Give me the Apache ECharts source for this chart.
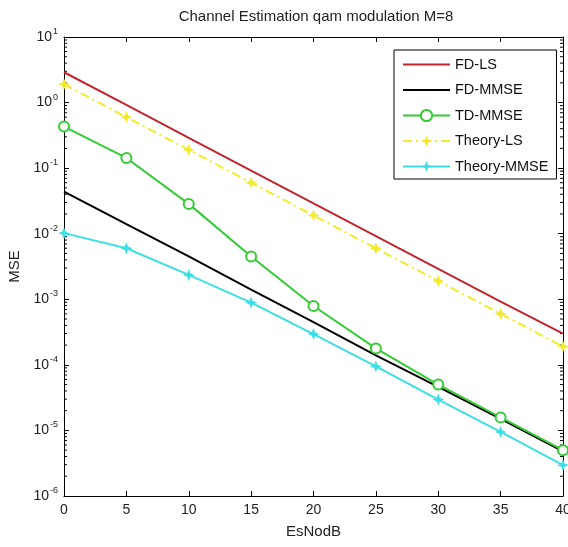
<!DOCTYPE html>
<html>
<head>
<meta charset="utf-8">
<script src="https://cdn.jsdelivr.net/npm/echarts@6/dist/echarts.min.js"></script>
<style>html,body{margin:0;padding:0;background:#fff}#c{width:568px;height:547px}</style>
</head>
<body>
<div id="c"></div>
<script>
const esno = [0, 5, 10, 15, 20, 25, 30, 35, 40];
const fdLS = [2.9, 0.92, 0.29, 0.092, 0.029, 0.0092, 0.0029, 0.00092, 0.0003];
const fdMMSE = [0.044, 0.014, 0.0045, 0.0014, 0.00045, 0.00014, 0.000046, 0.000015, 0.0000048];
const tdMMSE = [0.43, 0.143, 0.0285, 0.0045, 0.00079, 0.000178, 0.00005, 0.0000158, 0.000005];
const theoryLS = [1.9, 0.6, 0.19, 0.06, 0.019, 0.006, 0.0019, 0.0006, 0.00019];
const theoryMMSE = [0.0102, 0.006, 0.00235, 0.00089, 0.000295, 0.000095, 0.0000295, 0.0000095, 0.00000295];
const seriesNames = ['FD-LS', 'FD-MMSE', 'TD-MMSE', 'Theory-LS', 'Theory-MMSE'];
const titleText = 'Channel Estimation qam modulation M=8';
const xName = 'EsNodB';
const yName = 'MSE';

const FONT = 'Liberation Sans, Arial, sans-serif';
const pair = arr => esno.map((x, i) => [x, arr[i]]);
const minorVals = [];
for (let e = -6; e <= 0; e++) for (let m = 2; m <= 9; m++) minorVals.push([0, m * Math.pow(10, e)]);
const star = 'path://M0,-10 L2.8,-2.8 L10,0 L2.8,2.8 L0,10 L-2.8,2.8 L-10,0 L-2.8,-2.8 Z';

const chart = echarts.init(document.getElementById('c'), null, {renderer: 'canvas'});
const yLabel = {
  show: true, margin: 6, fontFamily: FONT, color: '#222',
  formatter: v => '{b|10}{s|' + Math.round(Math.log10(v)) + '}',
  rich: {
    b: {fontSize: 14, fontFamily: FONT, color: '#222'},
    s: {fontSize: 9, fontFamily: FONT, color: '#222', padding: [0, 0, 11, 1]}
  }
};
chart.setOption({
  animation: false,
  backgroundColor: '#fff',
  title: {text: titleText, left: 311, top: 4, textAlign: 'center',
    textStyle: {fontSize: 15, fontWeight: 'normal', fontFamily: FONT, color: '#222'}},
  grid: {left: 64, right: 5, top: 37, bottom: 51, containLabel: false, outerBoundsMode: 'none'},
  legend: {
    orient: 'vertical', left: 394, top: 50, padding: [7, 8, 5, 8],
    itemWidth: 47, itemHeight: 14, itemGap: 10.5,
    borderColor: '#000', borderWidth: 1, backgroundColor: '#fff',
    data: [
      {name: seriesNames[0], itemStyle: {opacity: 0}},
      {name: seriesNames[1], itemStyle: {opacity: 0}},
      seriesNames[2], seriesNames[3], seriesNames[4]
    ],
    textStyle: {fontSize: 14.5, fontFamily: FONT, color: '#111'}
  },
  xAxis: [
    {type: 'value', min: 0, max: 40, interval: 5, position: 'bottom',
      name: xName, nameLocation: 'middle', nameGap: 28,
      nameTextStyle: {fontSize: 15, fontFamily: FONT, color: '#222'},
      axisLine: {show: true, onZero: false, lineStyle: {color: '#000', width: 1}},
      axisTick: {show: true, inside: true, length: 5, lineStyle: {color: '#000'}},
      axisLabel: {fontSize: 14, fontFamily: FONT, color: '#222', margin: 7},
      splitLine: {show: false}},
    {type: 'value', min: 0, max: 40, interval: 5, position: 'top',
      axisLine: {show: true, onZero: false, lineStyle: {color: '#000', width: 1}},
      axisTick: {show: true, inside: true, length: 5, lineStyle: {color: '#000'}},
      axisLabel: {show: false}, splitLine: {show: false}}
  ],
  yAxis: [
    {type: 'log', logBase: 10, min: 1e-6, max: 10, position: 'left',
      name: yName, nameLocation: 'middle', nameGap: 38, nameRotate: 90,
      nameTextStyle: {fontSize: 15, fontFamily: FONT, color: '#222'},
      axisLine: {show: true, onZero: false, lineStyle: {color: '#000', width: 1}},
      axisTick: {show: true, inside: true, length: 5, lineStyle: {color: '#000'}},
      axisLabel: yLabel, splitLine: {show: false}},
    {type: 'log', logBase: 10, min: 1e-6, max: 10, position: 'right',
      axisLine: {show: true, onZero: false, lineStyle: {color: '#000', width: 1}},
      axisTick: {show: true, inside: true, length: 5, lineStyle: {color: '#000'}},
      axisLabel: {show: false}, splitLine: {show: false}}
  ],
  series: [
    {type: 'custom', name: 'minor', silent: true, clip: false, z: 1,
      data: minorVals,
      renderItem: (params, api) => {
        const v = api.value(1);
        const a = api.coord([0, v]);
        const b = api.coord([40, v]);
        return {type: 'group', children: [
          {type: 'line', shape: {x1: a[0], y1: a[1], x2: a[0] + 3, y2: a[1]}, style: {stroke: '#000', lineWidth: 1}},
          {type: 'line', shape: {x1: b[0], y1: b[1], x2: b[0] - 3, y2: b[1]}, style: {stroke: '#000', lineWidth: 1}}
        ]};
      }},
    {type: 'line', name: 'FD-LS', data: pair(fdLS), symbol: 'none',
      lineStyle: {color: '#c0262c', width: 2}, itemStyle: {color: '#c0262c'}},
    {type: 'line', name: 'FD-MMSE', data: pair(fdMMSE), symbol: 'none',
      lineStyle: {color: '#000', width: 2}, itemStyle: {color: '#000'}},
    {type: 'line', name: 'TD-MMSE', data: pair(tdMMSE), symbol: 'emptyCircle', symbolSize: 10,
      lineStyle: {color: '#33cc33', width: 2}, itemStyle: {color: '#33cc33', borderColor: '#33cc33', borderWidth: 2}},
    {type: 'line', name: 'Theory-LS', data: pair(theoryLS), symbol: star, symbolSize: 12,
      lineStyle: {color: '#f3eb2a', width: 2, type: [9, 4, 2, 4]}, itemStyle: {color: '#f3eb2a'}},
    {type: 'line', name: 'Theory-MMSE', data: pair(theoryMMSE), symbol: star, symbolSize: 12,
      lineStyle: {color: '#3ddfe6', width: 2}, itemStyle: {color: '#3ddfe6'}}
  ]
});
</script>
</body>
</html>
